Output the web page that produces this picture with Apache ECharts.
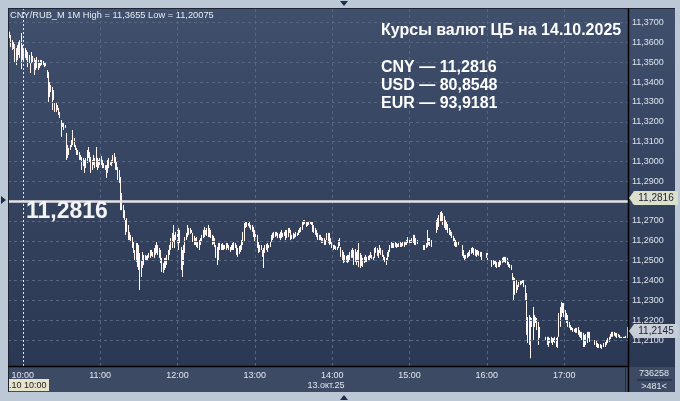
<!DOCTYPE html>
<html><head><meta charset="utf-8">
<script src="https://cdn.jsdelivr.net/npm/echarts@6/dist/echarts.min.js"></script>
<style>html,body{margin:0;padding:0;background:#bcc8d6;}#c{width:680px;height:401px;}</style>
</head><body><div id="c"></div>
<script>
// ---- data ----
const sessionStart = [9, 49];
const barCount = 481;
const hourTicks = ['10:00','11:00','12:00','13:00','14:00','15:00','16:00','17:00'];
const priceTicks = [11.21,11.22,11.23,11.24,11.25,11.26,11.27,11.28,11.29,11.30,11.31,11.32,11.33,11.34,11.35,11.36,11.37];
const cbRate = 11.2816;
const lastPrice = 11.2145;
const headerText = 'CNY/RUB_M 1M High = 11,3655 Low = 11,20075';
const titleText = 'Курсы валют ЦБ на 14.10.2025';
const rateLines = ['CNY — 11,2816', 'USD — 80,8548', 'EUR — 93,9181'];
const dateLabel = '13.окт.25';
const cursorLabel = '.10 10:00';
const volumeText = '736258';
const barsText = '>481<';

const highs = [
11.3653,11.3655,11.3638,11.3612,11.3602,11.3592,11.3572,11.3587,11.3602,11.3612,
11.3648,11.3587,11.3562,11.3572,11.3562,11.3552,11.3537,11.3496,11.3552,11.3532,
11.3522,11.3512,11.3527,11.3512,11.3501,11.3512,11.3512,11.3507,11.3501,11.3496,
11.3461,11.3451,11.3401,11.3386,11.3376,11.3360,11.3295,11.3300,11.3285,11.3270,
11.3250,11.3209,11.3199,11.3199,11.3184,11.3144,11.3083,11.3068,11.3083,11.3108,
11.3159,11.3119,11.3083,11.3068,11.3058,11.3048,11.3033,11.3023,11.3018,11.3008,11.3018,
11.3058,11.3073,11.3048,11.3023,11.3008,11.3033,11.3018,11.3073,11.3018,11.3008,
11.3018,11.3028,11.3008,11.2992,11.2982,11.2982,11.3008,11.3018,11.2997,11.3008,
11.3033,11.3043,11.3023,11.2997,11.2972,11.2957,11.2922,11.2841,11.2781,11.2755,
11.2705,11.2715,11.2680,11.2645,11.2630,11.2619,11.2594,11.2554,11.2589,11.2589,
11.2579,11.2539,11.2503,11.2544,11.2529,11.2529,11.2524,11.2529,11.2539,11.2554,
11.2554,11.2544,11.2564,11.2579,11.2594,11.2579,11.2564,11.2554,11.2514,11.2488,
11.2514,11.2514,11.2529,11.2554,11.2579,11.2614,11.2640,11.2680,11.2630,11.2645,
11.2655,11.2665,11.2655,11.2569,11.2554,11.2579,11.2619,11.2640,11.2680,11.2665,
11.2665,11.2655,11.2640,11.2625,11.2614,11.2619,11.2594,11.2604,11.2614,11.2630,
11.2655,11.2670,11.2655,11.2665,11.2680,11.2665,11.2655,11.2630,11.2625,11.2614,
11.2579,11.2569,11.2589,11.2589,11.2584,11.2589,11.2579,11.2579,11.2589,11.2589,
11.2579,11.2569,11.2579,11.2589,11.2594,11.2589,11.2579,11.2564,11.2574,11.2579,11.2604,
11.2645,11.2690,11.2695,11.2695,11.2690,11.2695,11.2680,11.2680,11.2670,11.2655,
11.2645,11.2630,11.2594,11.2579,11.2579,11.2554,11.2564,11.2579,11.2584,11.2589,
11.2579,11.2594,11.2630,11.2640,11.2645,11.2645,11.2645,11.2640,11.2635,11.2645,
11.2655,11.2640,11.2645,11.2655,11.2655,11.2665,11.2665,11.2655,11.2630,11.2640,
11.2635,11.2645,11.2640,11.2655,11.2665,11.2670,11.2695,11.2705,11.2705,11.2695,
11.2695,11.2700,11.2700,11.2695,11.2695,11.2680,11.2665,11.2655,11.2640,11.2630,
11.2630,11.2619,11.2614,11.2614,11.2604,11.2640,11.2640,11.2640,11.2614,11.2594,
11.2579,11.2579,11.2574,11.2569,11.2604,11.2614,11.2569,11.2554,11.2544,11.2529,
11.2524,11.2529,11.2529,11.2544,11.2554,11.2564,11.2554,11.2559,11.2544,11.2554,
11.2589,11.2539,11.2529,11.2514,11.2519,11.2529,11.2519,11.2524,11.2529,11.2544,
11.2529,11.2519,11.2564,11.2569,11.2564,11.2554,11.2579,11.2564,11.2554,11.2529,
11.2519,11.2514,11.2544,11.2554,11.2579,11.2594,11.2589,11.2589,11.2594,11.2589,11.2584,
11.2589,11.2594,11.2589,11.2594,11.2594,11.2594,11.2604,11.2619,11.2614,11.2604,
11.2614,11.2630,11.2630,11.2614,11.2604,null,null,null,null,11.2579,
11.2579,11.2589,11.2655,11.2614,11.2614,11.2604,null,null,null,11.2705,
11.2715,11.2730,11.2745,11.2750,11.2740,11.2725,11.2705,11.2695,11.2685,11.2665,
11.2655,11.2645,11.2625,11.2614,11.2604,11.2594,11.2594,null,null,11.2579,
11.2554,11.2529,11.2529,11.2539,11.2544,11.2554,11.2564,11.2569,11.2564,11.2559,
11.2554,11.2554,11.2549,11.2544,11.2544,null,null,null,11.2539,11.2539,
null,null,11.2503,11.2503,11.2503,11.2503,11.2493,11.2493,11.2503,11.2503,
11.2514,11.2519,11.2519,11.2519,11.2514,11.2493,11.2483,11.2478,11.2438,11.2418,
11.2413,11.2402,11.2377,11.2392,11.2398,11.2398,11.2402,11.2402,11.2377,11.2337,
11.2216,11.2226,11.2216,11.2211,11.2267,11.2226,11.2216,11.2211,11.2191,11.2166,
null,null,null,null,11.2116,11.2116,11.2116,11.2110,11.2116,11.2110,11.2110,
11.2116,11.2110,11.2116,11.2236,11.2267,11.2292,11.2287,11.2287,11.2251,11.2236,
11.2226,11.2191,11.2176,11.2166,11.2161,11.2156,11.2161,11.2161,11.2166,11.2150,
11.2141,11.2141,11.2136,11.2126,11.2131,11.2141,11.2141,11.2141,null,null,
null,11.2100,11.2100,11.2085,11.2080,11.2080,11.2075,null,11.2085,11.2090,
11.2100,11.2110,11.2116,11.2131,11.2141,11.2141,11.2141,11.2136,11.2136,11.2131,
11.2126,11.2116,11.2116,11.2116,11.2116,11.2121,11.2166
];
const lows = [
11.3612,11.3622,11.3577,11.3562,11.3567,11.3501,11.3486,11.3512,11.3537,11.3522,
11.3466,11.3512,11.3501,11.3522,11.3512,11.3476,11.3496,11.3446,11.3496,11.3501,
11.3436,11.3461,11.3471,11.3461,11.3471,11.3481,11.3486,11.3486,11.3476,11.3481,
11.3421,11.3300,11.3325,11.3350,11.3260,11.3310,11.3250,11.3250,11.3260,11.3234,
11.3219,11.3124,11.3174,11.3159,11.3169,11.3008,11.3018,11.3033,11.3058,11.3073,
11.3083,11.3073,11.3058,11.3033,11.3033,11.3008,11.3008,11.2957,11.2977,11.2942,11.2967,
11.2992,11.3018,11.2997,11.2942,11.2957,11.2982,11.2967,11.2972,11.2957,11.2967,
11.2982,11.2982,11.2967,11.2967,11.2957,11.2917,11.2942,11.2967,11.2982,11.2977,
11.2992,11.2992,11.2957,11.2957,11.2907,11.2892,11.2755,11.2755,11.2715,11.2705,
11.2630,11.2645,11.2604,11.2604,11.2594,11.2564,11.2539,11.2503,11.2493,11.2468,
11.2453,11.2352,11.2418,11.2463,11.2478,11.2503,11.2498,11.2503,11.2514,11.2514,
11.2524,11.2519,11.2514,11.2529,11.2539,11.2529,11.2514,11.2488,11.2443,11.2438,
11.2453,11.2463,11.2478,11.2503,11.2529,11.2554,11.2564,11.2594,11.2564,11.2604,
11.2579,11.2554,11.2589,11.2453,11.2418,11.2478,11.2539,11.2604,11.2619,11.2630,
11.2635,11.2640,11.2594,11.2579,11.2579,11.2569,11.2564,11.2554,11.2579,11.2594,
11.2614,11.2619,11.2630,11.2625,11.2619,11.2619,11.2614,11.2579,11.2584,11.2569,
11.2514,11.2478,11.2503,11.2554,11.2554,11.2554,11.2554,11.2559,11.2554,11.2564,
11.2554,11.2544,11.2554,11.2554,11.2554,11.2564,11.2529,11.2519,11.2534,11.2544,11.2554,
11.2579,11.2594,11.2665,11.2670,11.2675,11.2665,11.2655,11.2645,11.2619,11.2594,
11.2604,11.2564,11.2539,11.2544,11.2554,11.2519,11.2463,11.2539,11.2554,11.2544,
11.2564,11.2569,11.2594,11.2604,11.2614,11.2619,11.2625,11.2614,11.2614,11.2604,
11.2614,11.2619,11.2625,11.2604,11.2614,11.2619,11.2640,11.2604,11.2609,11.2609,
11.2614,11.2619,11.2625,11.2630,11.2640,11.2645,11.2655,11.2680,11.2685,11.2670,
11.2675,11.2680,11.2685,11.2680,11.2645,11.2640,11.2630,11.2619,11.2604,11.2604,
11.2604,11.2589,11.2589,11.2579,11.2579,11.2604,11.2589,11.2579,11.2584,11.2564,
11.2554,11.2559,11.2554,11.2554,11.2564,11.2574,11.2519,11.2503,11.2488,11.2493,
11.2493,11.2488,11.2493,11.2503,11.2514,11.2514,11.2478,11.2493,11.2478,11.2493,
11.2468,11.2463,11.2473,11.2468,11.2488,11.2493,11.2493,11.2498,11.2503,11.2514,
11.2509,11.2503,11.2514,11.2539,11.2524,11.2514,11.2539,11.2529,11.2519,11.2503,
11.2493,11.2478,11.2503,11.2519,11.2544,11.2564,11.2564,11.2564,11.2569,11.2564,11.2569,
11.2569,11.2569,11.2569,11.2574,11.2569,11.2579,11.2579,11.2589,11.2579,11.2589,
11.2589,11.2589,11.2579,11.2579,11.2584,null,null,null,null,11.2554,
11.2554,11.2564,11.2569,11.2579,11.2574,11.2569,null,null,null,11.2640,
11.2655,11.2670,11.2695,11.2700,11.2680,11.2665,11.2655,11.2655,11.2640,11.2630,
11.2625,11.2614,11.2594,11.2574,11.2569,11.2569,11.2579,null,null,11.2524,
11.2514,11.2503,11.2509,11.2514,11.2519,11.2524,11.2534,11.2539,11.2529,11.2524,
11.2519,11.2529,11.2524,11.2519,11.2503,null,null,null,11.2514,11.2503,
null,null,11.2468,11.2478,11.2483,11.2468,11.2463,11.2468,11.2468,11.2478,
11.2488,11.2493,11.2493,11.2488,11.2478,11.2468,11.2463,11.2453,11.2402,11.2302,
11.2327,11.2337,11.2352,11.2367,11.2377,11.2382,11.2388,11.2367,11.2302,11.2126,
11.2085,11.2075,11.2008,11.2166,11.2100,11.2166,11.2186,11.2150,11.2075,11.2110,
null,null,null,null,11.2100,11.2075,11.2065,11.2085,11.2085,11.2075,11.2090,
11.2085,11.2065,11.2060,11.2116,11.2166,11.2216,11.2236,11.2216,11.2201,11.2186,
11.2166,11.2161,11.2150,11.2150,11.2141,11.2141,11.2136,11.2136,11.2126,11.2116,
11.2110,11.2100,11.2065,11.2065,11.2075,11.2085,11.2110,11.2090,null,null,
null,11.2075,11.2065,11.2060,11.2060,11.2060,11.2055,null,11.2065,11.2065,
11.2075,11.2085,11.2090,11.2105,11.2116,11.2116,11.2121,11.2116,11.2110,11.2116,
11.2110,11.2110,11.2110,11.2110,11.2110,11.2110,11.2110
];

// ---- build ----
const times = [];
for (let k = 0; k < barCount; k++) {
  const m = sessionStart[0] * 60 + sessionStart[1] + k;
  times.push(String(Math.floor(m / 60)).padStart(2, '0') + ':' + String(m % 60).padStart(2, '0'));
}
const candles = lows.map((l, i) => (l == null || highs[i] == null) ? ['-', '-', '-', '-'] : [l, highs[i], l, highs[i]]);

const FONT = '"Liberation Sans", Arial, sans-serif';
const BAR = '#fff6f2';
const GRIDC = '#56667f';

const chart = echarts.init(document.getElementById('c'), null, { renderer: 'canvas' });
const option = {
  animation: false,
  backgroundColor: '#bcc8d6',
  textStyle: { fontFamily: FONT },
  grid: { left: 8, right: 52, top: 8, bottom: 35, containLabel: false },
  xAxis: {
    type: 'category', data: times, boundaryGap: true,
    axisLine: { show: false }, axisTick: { show: false }, splitLine: { show: false },
    axisLabel: {
      interval: (idx, val) => hourTicks.indexOf(val) >= 0,
      color: '#e2e8f0', fontSize: 9, margin: 5, fontFamily: FONT
    }
  },
  yAxis: {
    type: 'value', position: 'right', min: 11.1969, max: 11.3774, splitNumber: 18, scale: true,
    axisLine: { show: false }, axisTick: { show: false }, splitLine: { show: false },
    axisLabel: {
      color: '#dde3ec', fontSize: 9, margin: 4, fontFamily: FONT,
      showMinLabel: false, showMaxLabel: false,
      formatter: v => priceTicks.some(t => Math.abs(t - v) < 1e-6) ? v.toFixed(4).replace('.', ',') : ''
    }
  },
  series: [
    {
      type: 'line', data: times.map(() => '-'), z: 1, silent: true, symbol: 'none',
      markLine: {
        silent: true, symbol: 'none', label: { show: false }, animation: false,
        data: priceTicks.map(t => ({ yAxis: t, lineStyle: { color: GRIDC, type: [3, 3], width: 1 } }))
          .concat(hourTicks.map((h, k) => ({ xAxis: h, lineStyle: k === 0 ? { color: '#e8e8e8', type: [2, 2], width: 1 } : { color: GRIDC, type: [3, 3], width: 1 } })))
      }
    },
    {
      type: 'candlestick', data: candles, z: 3, barWidth: 0.6,
      itemStyle: { color: BAR, color0: BAR, borderColor: BAR, borderColor0: BAR, borderWidth: 1 }
    },
    {
      type: 'line', data: times.map(() => '-'), z: 6, silent: true, symbol: 'none',
      markLine: {
        silent: true, symbol: 'none', label: { show: false }, animation: false,
        data: [{ yAxis: cbRate, lineStyle: { color: '#e4e4e6', type: 'solid', width: 2.5 } }]
      }
    }
  ]
};
chart.setOption(option);

const yc = chart.convertToPixel({ yAxisIndex: 0 }, cbRate);
const yl = chart.convertToPixel({ yAxisIndex: 0 }, lastPrice);
function tag(y, fill, text) {
  return [
    { type: 'polygon', z: 60, shape: { points: [[629, y], [634, y - 7], [678, y - 7], [678, y + 7], [634, y + 7]] }, style: { fill: fill } },
    { type: 'text', z: 61, style: { text: text, x: 656, y: y, fill: '#14213a', font: '10px ' + FONT, textAlign: 'center', textVerticalAlign: 'middle', align: 'center', verticalAlign: 'middle' } }
  ];
}
function txt(s, x, y, font, fill, align) {
  return { type: 'text', z: 70, style: { text: s, x: x, y: y, font: font, fill: fill, textAlign: align || 'left', align: align || 'left', textVerticalAlign: 'middle', verticalAlign: 'middle' } };
}
const graphics = [
  { type: 'rect', z: -10, silent: true, shape: { x: 8, y: 8, width: 667, height: 384 },
    style: { fill: new echarts.graphic.LinearGradient(0, 0, 0, 1, [{ offset: 0, color: '#3f4f6c' }, { offset: 0.93, color: '#2b3853' }, { offset: 1, color: '#2b3853' }]) } },
  { type: 'rect', z: -9, silent: true, shape: { x: 8, y: 367, width: 620, height: 25 }, style: { fill: '#3d4a64' } },
  { type: 'rect', z: -9, silent: true, shape: { x: 629, y: 367, width: 46, height: 25 }, style: { fill: '#3d4a64' } },
  { type: 'line', z: 50, shape: { x1: 8, y1: 8.5, x2: 675, y2: 8.5 }, style: { stroke: '#1d2433', lineWidth: 1 } },
  { type: 'line', z: 50, shape: { x1: 8.5, y1: 8, x2: 8.5, y2: 392 }, style: { stroke: '#1d2433', lineWidth: 1 } },
  { type: 'line', z: 50, shape: { x1: 8, y1: 366.5, x2: 628, y2: 366.5 }, style: { stroke: '#000000', lineWidth: 1.5 } },
  { type: 'line', z: 50, shape: { x1: 628.5, y1: 8, x2: 628.5, y2: 392 }, style: { stroke: '#000000', lineWidth: 1.5 } },
  { type: 'line', z: 50, shape: { x1: 625.5, y1: 368, x2: 625.5, y2: 392 }, style: { stroke: '#262f40', lineWidth: 1 } },
  { type: 'line', z: 50, shape: { x1: 637, y1: 380, x2: 672, y2: 380 }, style: { stroke: '#1b2230', lineWidth: 1 } },
  txt(headerText, 10, 15, '9.3px ' + FONT, '#e6ecf4'),
  txt(titleText, 381, 31, 'bold 16px ' + FONT, '#ffffff'),
  txt(rateLines[0], 381, 68, 'bold 16px ' + FONT, '#ffffff'),
  txt(rateLines[1], 381, 86, 'bold 16px ' + FONT, '#ffffff'),
  txt(rateLines[2], 381, 104, 'bold 16px ' + FONT, '#ffffff'),
  txt(cbRate.toFixed(4).replace('.', ','), 26, yc + 13.5, 'bold 23px ' + FONT, '#f4f4f4'),
  txt(dateLabel, 326, 386, '9px ' + FONT, '#e2e8f0', 'center'),
  txt(volumeText, 654, 373.5, '9px ' + FONT, '#e2e8f0', 'center'),
  txt(barsText, 654, 386.5, '9px ' + FONT, '#e2e8f0', 'center'),
  { type: 'rect', z: 60, shape: { x: 9, y: 379, width: 40, height: 12 }, style: { fill: '#e6e4cc' } },
  txt(cursorLabel, 9, 385.5, '9px ' + FONT, '#1a1a1a'),
  { type: 'polygon', z: 60, shape: { points: [[1, 196], [6, 200], [1, 204]] }, style: { fill: '#1f2d48' } },
  { type: 'polygon', z: 60, shape: { points: [[340, 1], [348, 1], [344, 6]] }, style: { fill: '#1f2d48' } },
  { type: 'polygon', z: 60, shape: { points: [[340, 400], [348, 400], [344, 395]] }, style: { fill: '#1f2d48' } }
].concat(tag(yc, '#dcdfc9', cbRate.toFixed(4).replace('.', ','))).concat(tag(yl, '#c9ced6', lastPrice.toFixed(4).replace('.', ',')));
chart.setOption({ graphic: { elements: graphics } });
</script>
</body></html>
